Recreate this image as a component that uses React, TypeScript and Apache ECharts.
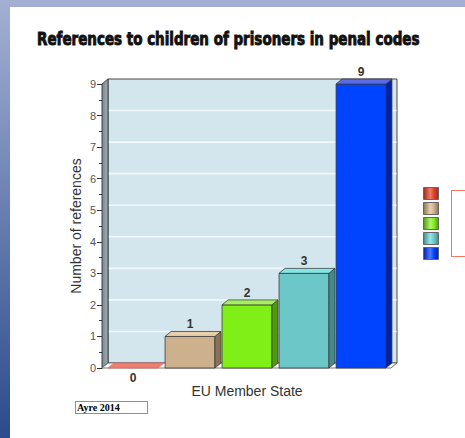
import React, { useEffect, useRef } from "react";
import * as echarts from "echarts";

// ---- data ----
const categories = ["Group A", "Group B", "Group C", "Group D", "Group E"];
const values = [0, 1, 2, 3, 9];
const yMin = 0;
const yMax = 9;
const yInterval = 1;

const frontColors = ["#e0402c", "#cdb08c", "#80ef18", "#6cc8c8", "#0044ff"];
const topColors = ["#ef7d70", "#e8cfaa", "#a6f060", "#86e6e6", "#5a6ae8"];
const sideColors = ["#9c2a1c", "#8a7356", "#4f9a0e", "#438a8a", "#0022a8"];
const legendLight = ["#f07a68", "#ead0ae", "#b0f46e", "#98e8e8", "#5078ff"];

const title = "References to children of prisoners in penal codes";
const xName = "EU Member State";
const yName = "Number of references";
const source = "Ayre 2014";

const DX = 6;
const DY = 5;

function measure(text: string, font: string): number {
  const c = document.createElement("canvas").getContext("2d");
  if (!c) return 383;
  c.font = font;
  return c.measureText(text).width;
}

export default function App() {
  const ref = useRef<HTMLDivElement>(null);

  useEffect(() => {
    if (!ref.current) return;
    const chart = echarts.init(ref.current, null, { renderer: "svg" });

    const titleFont = 'bold 18px "DejaVu Sans Condensed"';
    const tw = measure(title, titleFont);
    const titleScale = 383 / tw;

    const frameSeries: any = {
      type: "custom",
      name: "__frame",
      silent: true,
      z: 1,
      data: [[0, 0]],
      renderItem: (params: any, api: any) => {
        const cs = params.coordSys;
        const fl = cs.x - 2.5;
        const fr = cs.x + cs.width + 1.5;
        const ft = cs.y;
        const fb = cs.y + cs.height;
        const children: any[] = [];
        children.push({
          type: "rect",
          shape: { x: fl + DX, y: ft - DY, width: fr - fl, height: fb - ft },
          style: { fill: "#d3e6ee", stroke: "#333", lineWidth: 0.9 },
        });
        for (let v = yMin + yInterval; v < yMax; v += yInterval) {
          const y = api.coord([0, v])[1] - DY;
          children.push({
            type: "line",
            shape: { x1: fl + DX + 0.5, y1: y, x2: fr + DX - 0.5, y2: y },
            style: { stroke: "#f3f8fb", lineWidth: 1.6 },
          });
        }
        children.push({
          type: "polygon",
          shape: {
            points: [
              [fl, ft],
              [fl + DX, ft - DY],
              [fl + DX, fb - DY],
              [fl, fb],
            ],
          },
          style: {
            fill: new echarts.graphic.LinearGradient(0, 0, 1, 0, [
              { offset: 0, color: "#7a8a93" },
              { offset: 1, color: "#9eadb4" },
            ]),
            stroke: "#333",
            lineWidth: 0.9,
          },
        });
        children.push({
          type: "polygon",
          shape: {
            points: [
              [fl, fb],
              [fl + DX, fb - DY],
              [fr + DX, fb - DY],
              [fr, fb],
            ],
          },
          style: { fill: "#ffffff", stroke: "#666", lineWidth: 0.9 },
        });
        return { type: "group", children };
      },
    };

    const barSeries = categories.map((name, idx) => ({
      type: "custom",
      name,
      z: 2,
      itemStyle: { color: frontColors[idx] },
      data: [[idx, values[idx]]],
      encode: { x: 0, y: 1 },
      renderItem: (params: any, api: any) => {
        const i = api.value(0);
        const v = api.value(1);
        const top = api.coord([i, v]);
        const base = api.coord([i, 0]);
        const w = api.size([1, 0])[0] * 0.875;
        const x0 = top[0] - w / 2;
        const x1 = x0 + w;
        const y1 = top[1];
        const y0 = base[1];
        const children: any[] = [];
        if (v > 0) {
          children.push({
            type: "rect",
            shape: { x: x0, y: y1, width: w, height: y0 - y1 },
            style: { fill: frontColors[idx], stroke: "#3a3a3a", lineWidth: 0.8 },
          });
          children.push({
            type: "polygon",
            shape: {
              points: [
                [x1, y1],
                [x1 + DX, y1 - DY],
                [x1 + DX, y0 - DY],
                [x1, y0],
              ],
            },
            style: { fill: sideColors[idx], stroke: "#3a3a3a", lineWidth: 0.8 },
          });
        }
        children.push({
          type: "polygon",
          shape: {
            points: [
              [x0, y1],
              [x0 + DX, y1 - DY],
              [x1 + DX, y1 - DY],
              [x1, y1],
            ],
          },
          style: {
            fill: topColors[idx],
            stroke: v > 0 ? "#3a3a3a" : "#e07060",
            lineWidth: 0.8,
          },
        });
        children.push({
          type: "text",
          x: (x0 + x1) / 2,
          y: v > 0 ? y1 - DY - 1 : y0 + 4,
          style: {
            text: String(v),
            align: "center",
            verticalAlign: v > 0 ? "bottom" : "top",
            fill: "#333",
            font: 'bold 12px "Liberation Sans"',
          },
        });
        return { type: "group", children };
      },
    }));

    const legendData = categories.map((name, idx) => ({
      name,
      icon: "rect",
      itemStyle: {
        color: new echarts.graphic.LinearGradient(0, 0, 1, 0, [
          { offset: 0, color: sideColors[idx] },
          { offset: 0.45, color: legendLight[idx] },
          { offset: 0.7, color: frontColors[idx] },
          { offset: 1, color: sideColors[idx] },
        ]),
        borderColor: "#666",
        borderWidth: 1,
      },
    }));

    const option: any = {
      animation: false,
      graphic: [
        {
          type: "rect",
          z: -10,
          shape: { x: 0, y: 0, width: 465, height: 438 },
          style: {
            fill: new echarts.graphic.LinearGradient(0, 0, 0, 1, [
              { offset: 0, color: "#a3b0d3" },
              { offset: 1, color: "#2c4a8c" },
            ]),
          },
        },
        {
          type: "rect",
          z: -9,
          shape: { x: 10, y: 7, width: 455, height: 431 },
          style: { fill: "#ffffff" },
        },
        {
          type: "text",
          x: 37,
          y: 39,
          scaleX: titleScale,
          style: {
            text: title,
            font: titleFont,
            fill: "#111",
            stroke: "#111",
            lineWidth: 0.9,
            align: "left",
            verticalAlign: "middle",
          },
        },
        {
          type: "rect",
          shape: { x: 451, y: 190, width: 20, height: 67 },
          style: { fill: "#f07a6a" },
        },
        {
          type: "rect",
          shape: { x: 452, y: 191, width: 20, height: 65 },
          style: { fill: "#ffffff" },
        },
        {
          type: "rect",
          shape: { x: 75, y: 401, width: 73, height: 13 },
          style: { fill: "#f06a5a" },
        },
        {
          type: "rect",
          shape: { x: 76, y: 402, width: 71, height: 11 },
          style: { fill: "#ffffff" },
        },
        {
          type: "text",
          x: 77,
          y: 407.5,
          style: {
            text: source,
            font: 'bold 10px "Liberation Serif"',
            fill: "#000",
            align: "left",
            verticalAlign: "middle",
          },
        },
      ],
      legend: {
        orient: "vertical",
        left: 423,
        top: 187,
        itemWidth: 15,
        itemHeight: 12,
        itemGap: 2,
        padding: 0,
        selectedMode: false,
        formatter: () => "",
        data: legendData,
      },
      grid: { left: 104.5, top: 84, width: 285, height: 284 },
      xAxis: {
        type: "category",
        data: categories,
        axisLine: { show: false },
        axisTick: { show: false },
        axisLabel: { show: false },
        splitLine: { show: false },
        name: xName,
        nameLocation: "middle",
        nameGap: 16,
        nameMoveOverlap: false,
        nameTextStyle: { color: "#333", fontSize: 14, fontFamily: "Liberation Sans" },
      },
      yAxis: {
        type: "value",
        min: yMin,
        max: yMax,
        interval: yInterval,
        offset: 2.5,
        axisLine: { show: true, lineStyle: { color: "#333", width: 1 } },
        axisTick: { show: true, length: 5, lineStyle: { color: "#333" } },
        minorTick: { show: true, splitNumber: 2, length: 3, lineStyle: { color: "#333" } },
        axisLabel: { color: "#555", fontSize: 11, margin: 6, fontFamily: "Liberation Sans" },
        splitLine: { show: false },
        name: yName,
        nameLocation: "middle",
        nameGap: 19,
        nameMoveOverlap: false,
        nameTextStyle: { color: "#333", fontSize: 14, fontFamily: "Liberation Sans" },
      },
      series: [frameSeries, ...barSeries],
    };

    chart.setOption(option);
    return () => chart.dispose();
  }, []);

  return (
    <div
      ref={ref}
      style={{ position: "absolute", left: 0, top: 0, width: 465, height: 438 }}
    />
  );
}
